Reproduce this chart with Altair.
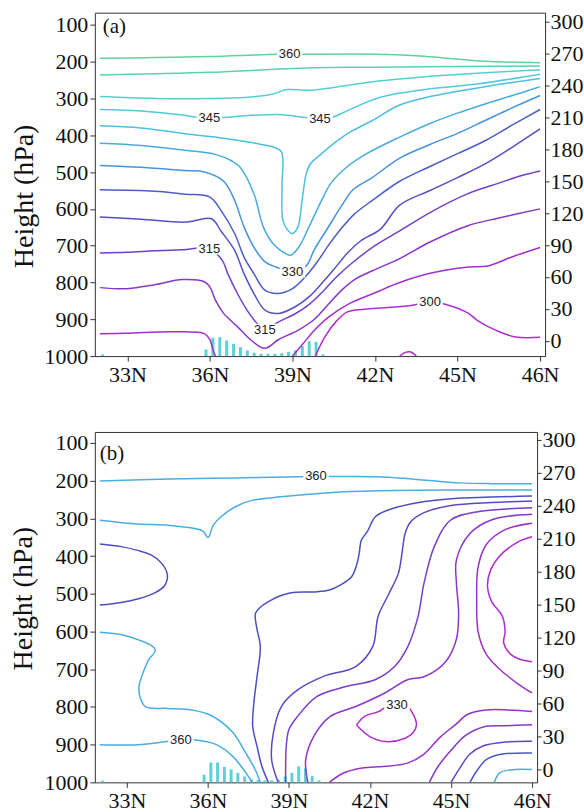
import altair as alt
import pandas as pd

SERIF = "Liberation Serif"
SANS = "Liberation Sans"

# ---------------- axes ----------------
X_TICKS = [33, 36, 39, 42, 45, 48]
X_TICK_LABELS = ["33N", "36N", "39N", "42N", "45N", "46N"]
Y_TICKS = [100, 200, 300, 400, 500, 600, 700, 800, 900, 1000]
R_TICKS = [0, 30, 60, 90, 120, 150, 180, 210, 240, 270, 300]
Y_TITLE = "Height (hPa)"

# ---------------- panel (a) contour lines (lat, hPa) ----------------
A360_LAT = [32, 34, 36, 38.5, 39.4, 42, 43.5, 44.5, 46, 48]
A360_P = [191, 189, 186, 180, 180, 180, 184, 190, 199, 203]
A355_LAT = [32, 34, 36, 38, 39.5, 42, 45, 48]
A355_P = [236, 233, 229, 222, 217, 215, 213, 212]
A350_LAT = [32, 34, 36, 37.5, 38.3, 38.8, 39.6, 40.5, 42.2, 44, 46, 48]
A350_P = [295, 300, 300, 296, 288, 276, 278, 270, 252, 240, 230, 222]
A345_LAT = [32, 33.5, 35.0, 35.6, 36.4, 37.5, 38.6, 39.5, 40.0, 40.5, 41.0, 42.2, 44, 45.7, 48]
A345_P = [330, 334, 345, 352, 352, 346, 344, 352, 355, 350, 333, 297, 274, 261, 234]
A340_LAT = [32, 33.5, 35.1, 36.5, 37.5, 38.3, 38.6, 38.62, 38.65, 38.8, 39.0, 39.2, 39.35, 39.5,
            39.65, 40.06, 40.65, 41.2, 41.9, 42.9, 44, 46, 48]
A340_P = [374, 380, 396, 408, 420, 432, 445, 540, 630, 655, 667, 649, 577, 505,
          478, 450, 414, 387, 360, 318, 295, 268, 246]
A335_LAT = [32, 33.5, 35.1, 36.2, 36.8, 37.1, 37.6, 37.94, 38.3, 38.76, 38.94, 39.24, 39.6, 40.06,
            40.4, 41, 41.7, 42.9, 44, 45, 46, 47, 48]
A335_P = [422, 428, 441, 452, 470, 487, 559, 649, 695, 722, 726, 703, 649, 577,
          530, 485, 450, 405, 368, 340, 315, 292, 268]
A330_LAT = [32, 33.5, 35.1, 35.8, 36.5, 36.9, 37.24, 37.6, 38.0, 38.4, 39.0, 39.5, 39.8, 40.3,
            40.8, 41.2, 41.9, 42.9, 44, 45, 46, 47, 48]
A330_P = [482, 487, 496, 500, 525, 577, 649, 704, 744, 758, 771, 755, 710, 650,
          590, 548, 515, 462, 425, 395, 360, 325, 292]
A325_LAT = [32, 34, 35.1, 36.0, 36.4, 36.9, 37.24, 37.6, 38.0, 38.5, 39.0, 39.5, 39.94, 40.3,
            40.76, 41.24, 41.94, 42.9, 44, 45, 46, 47, 48]
A325_P = [548, 552, 560, 568, 604, 667, 731, 776, 821, 830, 817, 782, 740, 700,
          655, 615, 575, 525, 485, 450, 415, 372, 330]
A320_LAT = [32, 33.5, 35.1, 36.06, 36.4, 36.9, 37.24, 37.6, 38.0, 38.5, 39.1, 39.6, 40.06, 40.5,
            41.0, 41.5, 42.2, 42.9, 44, 45, 46, 47, 48]
A320_P = [622, 628, 636, 627, 660, 713, 776, 830, 875, 884, 866, 839, 803, 765,
          720, 686, 655, 590, 550, 515, 478, 432, 383]
A315_LAT = [32, 33, 34, 35.0, 35.98, 36.45, 36.65, 37.0, 37.35, 37.7, 38.0, 38.5, 39.1, 39.6,
            40.1, 40.6, 41.2, 42.0, 42.9, 44, 45.4, 46.5, 47.3, 48]
A315_P = [720, 718, 714, 711, 708, 740, 776, 830, 875, 910, 928, 907, 885, 860,
          825, 785, 745, 700, 660, 610, 558, 530, 510, 497]
A310_LAT = [32, 33, 34, 35, 35.8, 36.0, 36.2, 36.5, 37, 37.5, 38, 38.5, 39.2, 39.8,
            40.3, 40.8, 41.3, 42, 42.9, 44, 45.4, 46.5, 48]
A310_P = [814, 817, 806, 792, 798, 812, 848, 884, 920, 957, 979, 955, 930, 900,
          860, 820, 790, 765, 735, 690, 645, 625, 600]
A305W_LAT = [32, 33, 34.6, 35.8, 36.0, 36.1, 36.2]
A305W_P = [939, 938, 934, 939, 955, 980, 1000]
A305E_LAT = [39.0, 39.4, 39.8, 40.3, 41.0, 42.0, 42.9, 44.0, 45.4, 46.1, 47.0, 48]
A305E_P = [1000, 965, 930, 895, 860, 828, 800, 775, 758, 755, 730, 705]
A300_LAT = [39.83, 40.2, 40.6, 41.0, 41.95, 43.37, 44.0, 44.55, 45.4, 45.7, 46.4, 47.1, 48]
A300_P = [1000, 945, 905, 880, 871, 862, 853, 859, 884, 902, 930, 948, 949]
A300S_LAT = [42.9, 43.1, 43.3, 43.5]
A300S_P = [1000, 990, 989, 1000]

A_LABEL_TEXT = ["360", "345", "345", "330", "315", "315", "300"]
A_LABEL_LAT = [38.9, 35.98, 40.0, 39.0, 35.98, 38.0, 44.0]
A_LABEL_P = [180, 352, 355, 771, 708, 928, 853]

# bars (precipitation, right-axis units above the baseline)
A_BAR_LAT = [32.1, 35.86, 36.11, 36.36, 36.61, 36.86, 37.11, 37.36, 37.61, 37.86, 38.11,
             38.36, 38.61, 38.86, 39.11, 39.36, 39.61, 39.86, 40.11]
A_BAR_VAL = [1.5, 6.3, 17.2, 17.8, 14.7, 11.5, 8.4, 5.3, 3.1, 2.2, 2.2,
             2.2, 2.8, 4.0, 5.3, 9.4, 14.1, 13.4, 1.6]

# ---------------- panel (b) contour lines ----------------
B1_LAT = [32, 34.6, 37, 39.4, 40.0, 41.1, 42.3, 44.1, 45.3, 46.5, 48]
B1_P = [201, 196, 193, 190, 189, 189, 190, 199, 206, 208, 208]
B2_LAT = [32, 33.4, 34.6, 35.8, 36.0, 36.2, 36.5, 37, 37.6, 38.7, 40.5, 42.3, 45, 48]
B2_P = [305, 315, 319, 333, 351, 318, 295, 270, 253, 243, 232, 227, 225, 225]
B3_LAT = [32, 32.8, 33.4, 33.9, 34.3, 34.5, 34.4, 34.05, 33.4, 32.8, 32]
B3_P = [368, 375, 385, 397, 420, 450, 478, 497, 514, 523, 530]
B4_LAT = [32, 33.0, 34.05, 33.8, 33.55, 33.45, 33.5, 33.7, 34.5, 35.4, 36.1, 36.9, 37.4, 37.75, 37.94]
B4_P = [602, 612, 648, 676, 719, 746, 777, 800, 804, 808, 822, 866, 922, 966, 1000]
B5_LAT = [32, 33.4, 34.35, 35.0, 35.48, 36.32, 36.92, 37.28, 37.64]
B5_P = [900, 900, 893, 887, 887, 900, 931, 962, 1000]
B6_LAT = [48, 46, 44.7, 43.5, 42.6, 42.2, 41.9, 41.68, 41.6, 41.52, 41.32, 40.9, 40.5, 39.94,
          39.08, 38.73, 38.36, 37.95, 37.76, 37.8, 37.94, 37.82, 37.7, 37.66, 37.82, 38.0, 38.24]
B6_P = [241, 245, 250, 262, 280, 296, 335, 358, 393, 420, 455, 477, 490, 495,
        497, 504, 516, 535, 552, 587, 640, 719, 790, 852, 905, 958, 1000]
B7_LAT = [48, 46.5, 45, 44, 43.5, 43.3, 43.2, 43.05, 42.7, 42.3, 42.1, 41.47, 40.28, 39.32,
          38.72, 38.42, 38.36, 38.6]
B7_P = [254, 258, 266, 285, 310, 340, 384, 446, 500, 560, 640, 693, 719, 755,
        799, 870, 940, 1000]
B8_LAT = [48, 45.94, 44.98, 44.38, 44.0, 43.78, 43.4, 42.91, 42.19, 41.11, 40.04, 39.32, 39.0, 38.9, 38.88]
B8_P = [272, 283, 305, 375, 472, 560, 640, 693, 728, 746, 772, 825, 860, 905, 1000]
B9_LAT = [48, 46.54, 45.7, 45.2, 45.2, 45.28, 45.2, 44.8, 44.0, 43.39, 42.55, 41.47, 40.52,
          39.92, 39.62, 39.7]
B9_P = [289, 303, 340, 410, 472, 551, 620, 680, 720, 728, 763, 799, 826, 878, 940, 1000]
B10_LAT = [48, 47, 46.3, 46.0, 45.95, 46.0, 46.3, 46.8, 47.5, 48]
B10_P = [313, 330, 370, 430, 520, 600, 660, 700, 740, 763]
B11_LAT = [48, 47.5, 46.8, 46.45, 46.35, 46.5, 46.9, 47.0, 46.95, 47.2, 47.6, 48]
B11_P = [349, 362, 400, 440, 480, 520, 560, 600, 630, 660, 675, 680]
B12_LAT = [40.5, 41.0, 41.71, 42.5, 43.39, 44.0, 44.6, 45.2, 45.6, 46.3, 48]
B12_P = [1000, 976, 962, 958, 949, 925, 880, 845, 820, 808, 812]
B13_LAT = [44.2, 44.5, 45.0, 45.55, 46.2, 47, 48]
B13_P = [1000, 960, 915, 875, 853, 850, 847]
B14_LAT = [45.0, 45.3, 45.7, 46.2, 47, 48]
B14_P = [1000, 965, 925, 903, 893, 891]
B15_LAT = [45.7, 45.95, 46.3, 46.8, 48]
B15_P = [1000, 970, 940, 926, 922]
B16_LAT = [46.6, 46.8, 47.2, 48]
B16_P = [1000, 975, 967, 966]
B17_LAT = [41.5, 41.8, 42.34, 42.6, 43.0, 43.4, 43.54, 43.72, 43.6, 43.3, 42.58, 41.98, 41.5]
B17_P = [848, 825, 812, 800, 795, 800, 812, 847, 868, 883, 892, 878, 848]

B_LABEL_TEXT = ["360", "360", "330"]
B_LABEL_LAT = [40.0, 35.0, 43.0]
B_LABEL_P = [189, 887, 795]

B_BAR_LAT = [32.1, 35.86, 36.11, 36.36, 36.61, 36.86, 37.11, 37.36, 37.61, 37.86, 38.11,
             38.36, 38.61, 38.86, 39.11, 39.36, 39.61, 39.86, 40.11]
B_BAR_VAL = [1.5, 7.0, 18.1, 18.1, 14.1, 11.8, 8.6, 5.4, 2.7, 2.3, 1.8,
             1.8, 2.4, 5.4, 8.6, 14.5, 12.7, 5.9, 1.8]

# ---------------- styles ----------------
A_STYLE = [
    ("360", A360_LAT, A360_P, "#5cd49c"), ("355", A355_LAT, A355_P, "#58d3b4"),
    ("350", A350_LAT, A350_P, "#54d0d0"), ("345", A345_LAT, A345_P, "#50cadc"),
    ("340", A340_LAT, A340_P, "#4dbfe0"), ("335", A335_LAT, A335_P, "#49abe0"),
    ("330", A330_LAT, A330_P, "#4794db"), ("325", A325_LAT, A325_P, "#4b5ec6"),
    ("320", A320_LAT, A320_P, "#5650c4"), ("315", A315_LAT, A315_P, "#7041c8"),
    ("310", A310_LAT, A310_P, "#8936c9"), ("305w", A305W_LAT, A305W_P, "#a031cc"),
    ("305e", A305E_LAT, A305E_P, "#a031cc"), ("300", A300_LAT, A300_P, "#b02ed0"),
    ("300s", A300S_LAT, A300S_P, "#b02ed0"),
]
B_STYLE = [
    ("b1", B1_LAT, B1_P, "#4aaee2"), ("b2", B2_LAT, B2_P, "#4aaee2"),
    ("b3", B3_LAT, B3_P, "#4a4fc0"), ("b4", B4_LAT, B4_P, "#4aaee2"),
    ("b5", B5_LAT, B5_P, "#4aaee2"), ("b6", B6_LAT, B6_P, "#4a50c2"),
    ("b7", B7_LAT, B7_P, "#5a48c6"), ("b8", B8_LAT, B8_P, "#7a3ec8"),
    ("b9", B9_LAT, B9_P, "#8c36c9"), ("b10", B10_LAT, B10_P, "#9a32cb"),
    ("b11", B11_LAT, B11_P, "#b02ed0"), ("b12", B12_LAT, B12_P, "#9634ca"),
    ("b13", B13_LAT, B13_P, "#8838c8"), ("b14", B14_LAT, B14_P, "#6246c4"),
    ("b15", B15_LAT, B15_P, "#4a58c4"), ("b16", B16_LAT, B16_P, "#4aaee2"),
    ("b17", B17_LAT, B17_P, "#b02ed0"),
]
BAR_COLOR = "#5cd2d8"
BOX = "M-1,-0.46L1,-0.46L1,0.46L-1,0.46Z"

LABEL_EXPR = "{" + ",".join(f"'{v}':'{t}'" for v, t in zip(X_TICKS, X_TICK_LABELS)) + "}[datum.value]"


def lines_frame(style):
    rows = []
    for name, lats, ps, color in style:
        for i, (la, p) in enumerate(zip(lats, ps)):
            rows.append({"line": name, "ord": i, "lat": la, "p": p, "color": color})
    return pd.DataFrame(rows)


def panel(style, ltext, llat, lp, blat, bval, p_top, r_lo, r_hi, w, h, tag, tag_x, tag_y,
          title_x, title_y):
    xs = alt.X("lat:Q", scale=alt.Scale(domain=[32, 48], nice=False, zero=False),
               axis=alt.Axis(values=X_TICKS, labelExpr=LABEL_EXPR, title=None,
                             tickSize=5, labelPadding=3, labelOverlap=False))
    ys = alt.Y("p:Q", scale=alt.Scale(domain=[1000, p_top], nice=False, zero=False),
               axis=alt.Axis(values=Y_TICKS, title=None, orient="left", format="d",
                             tickSize=5, labelPadding=2, labelOverlap=False, labelBound=False))
    lines = alt.Chart(lines_frame(style)).mark_line(
        strokeWidth=1.5, interpolate="catmull-rom"
    ).encode(x=xs, y=ys, detail="line:N", order="ord:Q",
             color=alt.Color("color:N", scale=None))
    ldf = pd.DataFrame({"lat": llat, "p": lp, "text": ltext})
    boxes = alt.Chart(ldf).mark_point(
        shape=BOX, size=650, filled=True, color="white", opacity=1, strokeWidth=0
    ).encode(x=xs, y=ys)
    texts = alt.Chart(ldf).mark_text(font=SANS, fontSize=13, color="#222").encode(
        x=xs, y=ys, text="text:N")
    tagc = alt.Chart(pd.DataFrame({"t": [tag]})).mark_text(
        font=SERIF, fontSize=21, align="left", baseline="middle", color="#111"
    ).encode(x=alt.value(tag_x), y=alt.value(tag_y), text="t:N")
    ttl = alt.Chart(pd.DataFrame({"t": [Y_TITLE]})).mark_text(
        font=SERIF, fontSize=28, angle=270, align="center", baseline="middle", color="#111"
    ).encode(x=alt.value(title_x), y=alt.value(title_y), text="t:N")
    left = alt.layer(lines, boxes, texts, tagc, ttl)

    bdf = pd.DataFrame({"lat": blat, "amount": bval})
    bars = alt.Chart(bdf).transform_calculate(
        base=str(r_lo), top=f"{r_lo} + datum.amount"
    ).mark_bar(size=3, color=BAR_COLOR).encode(
        x=xs,
        y=alt.Y("top:Q", scale=alt.Scale(domain=[r_lo, r_hi], nice=False, zero=False),
                axis=alt.Axis(values=R_TICKS, orient="right", title=None, format="d",
                              tickSize=4, labelPadding=1, labelOverlap=False)),
        y2="base:Q",
    )
    return alt.layer(bars, left).resolve_scale(y="independent").properties(width=w, height=h)


pa = panel(A_STYLE, A_LABEL_TEXT, A_LABEL_LAT, A_LABEL_P, A_BAR_LAT, A_BAR_VAL,
           67, -14.3, 308.2, 451, 344, "(a)", 8, 14, -70, 184)
pb = panel(B_STYLE, B_LABEL_TEXT, B_LABEL_LAT, B_LABEL_P, B_BAR_LAT, B_BAR_VAL,
           71, -11.5, 306.9, 443, 351, "(b)", 5, 22, -71, 167)

chart = alt.vconcat(pa, pb, spacing=42).properties(
    padding={"left": 9, "top": 9, "right": 0, "bottom": 0}
).configure_view(stroke="#333", strokeWidth=1).configure_axis(
    labelFont=SERIF, titleFont=SERIF, labelFontSize=22, titleFontSize=28,
    titleFontWeight="normal", labelColor="#111", titleColor="#111",
    tickColor="#333", domain=False, grid=False, labelOverlap=False
)

chart.save("out.html", embed_options={"renderer": "svg", "actions": False})
